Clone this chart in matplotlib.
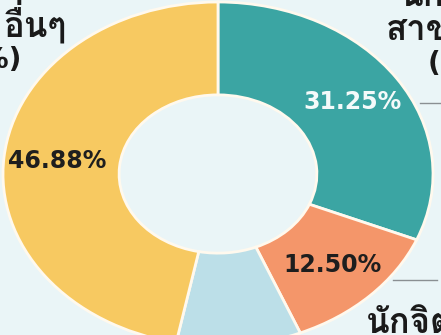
import matplotlib.pyplot as plt
from matplotlib import font_manager, ft2font

labels = ['สาขาวิชา', 'นักจิตวิทยา', 'อื่นๆ ย่อย', 'อื่นๆ']
shares = [31.25, 12.50, 9.37, 46.88]
colors = ['#3BA5A3', '#F4966A', '#BCDFE8', '#F7C961']
bg = '#EAF5F7'

# find an installed family that has Thai glyphs
thai = []
for f in font_manager.fontManager.ttflist:
    try:
        if 0x0E01 in ft2font.FT2Font(f.fname).get_charmap() and f.name not in thai:
            thai.append(f.name)
    except Exception:
        pass
plt.rcParams['font.family'] = ['DejaVu Sans'] + thai

fig = plt.figure(figsize=(4.41, 3.35), dpi=100, facecolor=bg)
ax = fig.add_axes([0, 0, 1, 1])
ax.set_facecolor(bg)

wedges, texts, autotexts = ax.pie(
    shares, colors=colors, startangle=90, counterclock=False,
    autopct=lambda p: '' if p < 10 else f'{p:.2f}%', pctdistance=0.75,
    wedgeprops=dict(width=0.54, edgecolor='#FFF9EE', linewidth=2),
    textprops=dict(fontsize=17, fontweight='bold', color='#1E1E1E'))
autotexts[0].set_color('#F4FAFA')

# stretched donut, cropped like the reference
ax.set_aspect('auto')
ax.set_xlim(-218 / 215, (441 - 218) / 215)
ax.set_ylim((174 - 335) / 172, 174 / 172)
ax.axis('off')

# outside labels (partly cut off by the frame)
kw = dict(fontsize=25, fontweight='bold', color='#1A1A1A')
fig.text(66 / 441, 1 - 22 / 335, 'อื่นๆ', ha='right', va='center', **kw)
fig.text(22 / 441, 1 - 60 / 335, '(46.88%)', ha='right', va='center',
         fontsize=20, fontweight='bold', color='#1A1A1A')
fig.text(400 / 441, 1 + 4 / 335, 'นักศึกษา', ha='left', va='center', **kw)
fig.text(386 / 441, 1 - 30 / 335, 'สาขา', ha='left', va='center', **kw)
fig.text(428 / 441, 1 - 64 / 335, '(31.25%)', ha='left', va='center',
         fontsize=20, fontweight='bold', color='#1A1A1A')
fig.text(366 / 441, 1 - 340 / 335, 'นักจิตวิทยา', ha='left', va='bottom', **kw)

# leader lines
fig.add_artist(plt.Line2D([420 / 441, 1], [1 - 103 / 335] * 2, color='#8A8F92', lw=1))
fig.add_artist(plt.Line2D([393 / 441, 437 / 441], [1 - 280 / 335] * 2, color='#8A8F92', lw=1))

fig.savefig('out.png', dpi=100, facecolor=bg)
